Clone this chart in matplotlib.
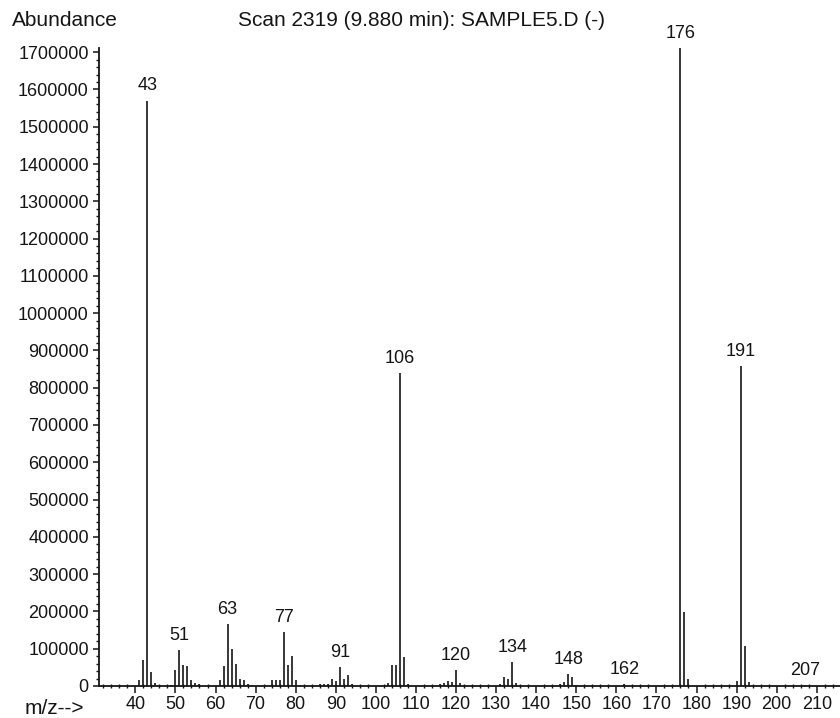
import matplotlib
matplotlib.use("Agg")
import matplotlib.pyplot as plt
from matplotlib.ticker import MultipleLocator, FuncFormatter

# mass spectrum, scan 2319
mz = [41, 42, 43, 44, 45,
      49, 50, 51, 52, 53, 54, 55, 56,
      61, 62, 63, 64, 65, 66, 67, 68, 69,
      74, 75, 76, 77, 78, 79, 80, 81,
      86, 87, 88, 89, 90, 91, 92, 93, 94,
      103, 104, 105, 106, 107, 108,
      116, 117, 118, 119, 120, 121,
      131, 132, 133, 134, 135,
      146, 147, 148, 149, 150,
      162,
      176, 177, 178,
      190, 191, 192, 193,
      207]
abundance = [16000, 70000, 1570000, 37000, 7000,
             3000, 42000, 96000, 56000, 53000, 16000, 8000, 4000,
             15000, 54000, 166000, 99000, 58000, 20000, 16000, 6000, 2000,
             16000, 16000, 16000, 144000, 55000, 80000, 16000, 3000,
             5000, 6000, 6000, 19000, 13000, 51000, 20000, 29000, 4000,
             8000, 55000, 55000, 840000, 79000, 6000,
             5000, 8000, 14000, 10000, 43000, 7000,
             4000, 25000, 20000, 64000, 7000,
             6000, 12000, 31000, 24000, 3000,
             5000,
             1710000, 199000, 20000,
             14000, 858000, 107000, 12000,
             2000]
labelled = [43, 51, 63, 77, 91, 106, 120, 134, 148, 162, 176, 191, 207]

plt.rcParams['font.family'] = ['Liberation Sans', 'DejaVu Sans']
ink = '#151515'

fig = plt.figure(figsize=(8.4, 7.18), dpi=100)
ax = fig.add_axes([0.1182, 0.0446, 0.8818, 0.8890])

ax.vlines(mz, 0, abundance, color=ink, linewidth=1.2)

for m, a in zip(mz, abundance):
    if m in labelled:
        ax.annotate(str(m), (m, a), xytext=(0, 4.5), textcoords='offset points',
                    ha='center', va='bottom', fontsize=13, color=ink)

ax.set_xlim(31.0, 215.8)
ax.set_ylim(0, 1712000)

ax.xaxis.set_major_locator(MultipleLocator(10))
ax.xaxis.set_minor_locator(MultipleLocator(2))
ax.yaxis.set_major_locator(MultipleLocator(100000))
ax.yaxis.set_minor_locator(MultipleLocator(20000))
ax.yaxis.set_major_formatter(FuncFormatter(lambda v, p: '%d' % v))

ax.tick_params(axis='both', which='major', labelsize=13, colors=ink, width=1.1)
ax.tick_params(axis='x', which='major', direction='out', length=5, pad=2)
ax.tick_params(axis='x', which='minor', direction='inout', length=3.5, width=1.0, colors=ink)
ax.tick_params(axis='y', which='major', direction='out', length=4, pad=3.5)
ax.tick_params(axis='y', which='minor', direction='out', length=2, width=1.0, colors=ink)

for side in ['top', 'right']:
    ax.spines[side].set_visible(False)
for side in ['left', 'bottom']:
    ax.spines[side].set_color(ink)
    ax.spines[side].set_linewidth(1.3)

fig.text(11.7 / 840, 1 - 20.7 / 718, 'Abundance', ha='left', va='center',
         fontsize=15, color=ink)
fig.text(422 / 840, 1 - 20.7 / 718, 'Scan 2319 (9.880 min): SAMPLE5.D (-)',
         ha='center', va='center', fontsize=15, color=ink)
fig.text(25 / 840, 1 - 708 / 718, 'm/z-->', ha='left', va='center',
         fontsize=15, color=ink)

fig.savefig('out.png', dpi=100, facecolor='white')
